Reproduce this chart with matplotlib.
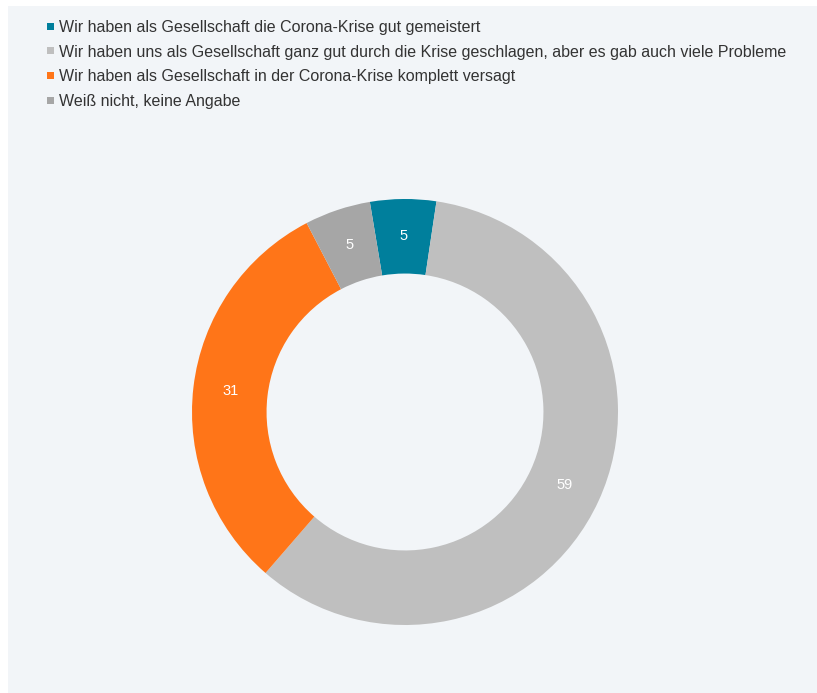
import matplotlib
matplotlib.use("Agg")
from matplotlib import pyplot as plt
from matplotlib.patches import Rectangle

plt.rcParams['font.family'] = ['Liberation Sans', 'DejaVu Sans']

# data
labels = [
    "Wir haben als Gesellschaft die Corona-Krise gut gemeistert",
    "Wir haben uns als Gesellschaft ganz gut durch die Krise geschlagen, aber es gab auch viele Probleme",
    "Wir haben als Gesellschaft in der Corona-Krise komplett versagt",
    "Weiß nicht, keine Angabe",
]
values = [5, 59, 31, 5]
colors = ["#007f9c", "#bfbfbf", "#ff7518", "#a6a6a6"]

W, H = 817, 693
fig = plt.figure(figsize=(W / 100, H / 100), dpi=100)
fig.patch.set_facecolor("white")

# light panel behind everything
fig.patches.append(Rectangle((8 / W, 0), 1 - 8 / W, 1 - 6 / H,
                             transform=fig.transFigure, facecolor="#f2f5f8",
                             edgecolor="none", zorder=-1))

# donut
cx, cy, r = 405, 412, 213
ax = fig.add_axes([(cx - r) / W, 1 - (cy + r) / H, 2 * r / W, 2 * r / H])
ax.set_zorder(1)
ax.set_facecolor("none")
wedges, texts = ax.pie(values, colors=colors, startangle=99.5, counterclock=False,
                       radius=1, wedgeprops=dict(width=0.35, edgecolor="none"),
                       labels=[str(v) for v in values], labeldistance=0.825,
                       textprops=dict(color="white", fontsize=10.5))
for t in texts:
    t.set_ha("center")
    t.set_va("center")
ax.set_xlim(-1, 1)
ax.set_ylim(-1, 1)
ax.axis("off")

# legend
y0, dy = 26, 24.7
for i, (lab, col) in enumerate(zip(labels, colors)):
    yc = y0 + i * dy
    fig.patches.append(Rectangle((47 / W, 1 - (yc + 3.5) / H), 7 / W, 7 / H,
                                 transform=fig.transFigure, facecolor=col,
                                 edgecolor="none", zorder=2))
    fig.text(59 / W, 1 - yc / H, lab, fontsize=11.5, color="#333333",
             ha="left", va="center_baseline")

fig.savefig("out.png", dpi=100)
